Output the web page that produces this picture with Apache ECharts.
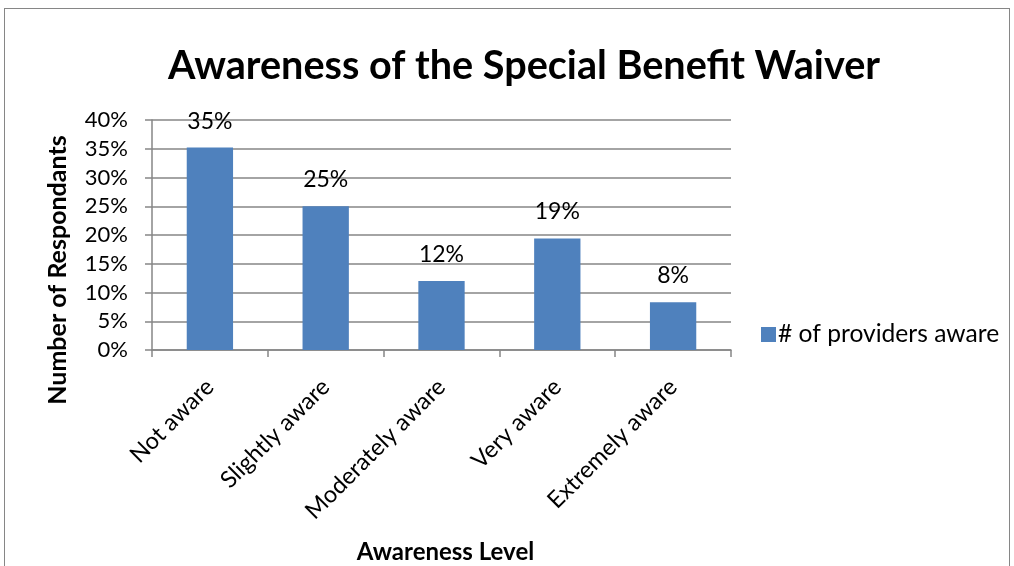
<!DOCTYPE html>
<html>
<head>
<meta charset="utf-8">
<script src="https://cdn.jsdelivr.net/npm/echarts@6/dist/echarts.min.js"></script>
<style>
  html, body { margin: 0; padding: 0; background: #fff; }
  #frame { position: absolute; left: 4px; top: 8px; width: 1006px; height: 600px; border: 1.5px solid #868686; box-sizing: border-box; }
  #chart { position: absolute; left: 0; top: 0; width: 1014px; height: 566px; }
</style>
</head>
<body>
<div id="frame"></div>
<div id="chart"></div>
<script>
// Share of respondents at each awareness level
const categories = ['Not aware', 'Slightly aware', 'Moderately aware', 'Very aware', 'Extremely aware'];
const providersAware = [35.2, 25.0, 12.0, 19.4, 8.3];
const seriesName = '# of providers aware';

const FONT = 'Lato, Carlito, Calibri, sans-serif';
const AXIS_GRAY = '#868686';

const chart = echarts.init(document.getElementById('chart'), null, { renderer: 'canvas' });
chart.setOption({
  backgroundColor: 'transparent',
  animation: false,
  title: {
    text: 'Awareness of the Special Benefit Waiver',
    left: 519, top: 41, textAlign: 'center',
    textStyle: { fontFamily: FONT, fontWeight: 'bold', fontSize: 39.6, color: '#000' }
  },
  legend: {
    left: 756, top: 317, orient: 'vertical',
    itemWidth: 15, itemHeight: 15, itemGap: 6,
    icon: 'rect',
    textStyle: { fontFamily: FONT, fontSize: 24.6, color: '#000', padding: [0, 0, 0, -3] },
    data: [seriesName]
  },
  grid: { left: 152, right: 283, top: 120, bottom: 216, containLabel: false },
  xAxis: {
    type: 'category',
    data: categories,
    name: 'Awareness Level',
    nameLocation: 'middle',
    nameGap: 190,
    nameTextStyle: { fontFamily: FONT, fontWeight: 'bold', fontSize: 24, color: '#000', padding: [0, 0, 0, 8] },
    axisLine: { lineStyle: { color: AXIS_GRAY, width: 1.5 } },
    axisTick: { show: true, length: 7, alignWithLabel: false, lineStyle: { color: AXIS_GRAY, width: 1.5 } },
    axisLabel: { rotate: 45, fontFamily: FONT, fontSize: 23.5, color: '#000', margin: 33, interval: 0 }
  },
  yAxis: {
    type: 'value',
    min: 0, max: 40, interval: 5,
    name: 'Number of Respondants',
    nameLocation: 'middle',
    nameGap: 82,
    nameRotate: 90,
    nameTextStyle: { fontFamily: FONT, fontWeight: 'bold', fontSize: 25, color: '#000', padding: [0, 70, 0, 0] },
    axisLine: { show: true, lineStyle: { color: AXIS_GRAY, width: 1.5 } },
    axisTick: { show: true, length: 7, inside: false, lineStyle: { color: AXIS_GRAY, width: 1.5 } },
    splitLine: { show: true, lineStyle: { color: AXIS_GRAY, width: 1.5 } },
    axisLabel: {
      fontFamily: FONT, fontSize: 22, color: '#000', margin: 24,
      formatter: v => v + '%'
    }
  },
  series: [{
    name: seriesName,
    type: 'bar',
    data: providersAware,
    barWidth: '40%',
    itemStyle: { color: '#4F81BD' },
    label: {
      show: true, position: 'top', distance: 15,
      fontFamily: FONT, fontSize: 23, color: '#000',
      formatter: p => Math.round(p.value) + '%'
    }
  }]
});
</script>
</body>
</html>
